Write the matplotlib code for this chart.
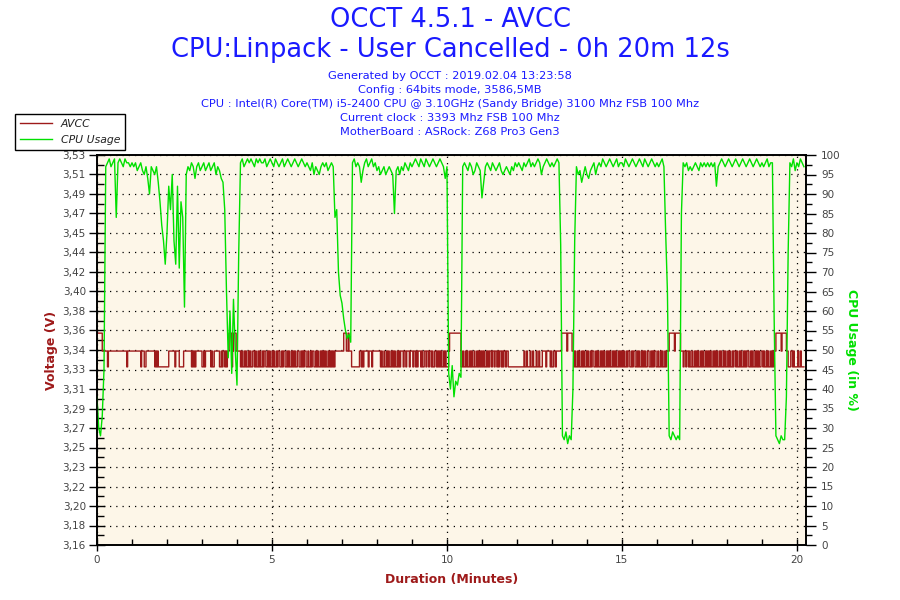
import numpy as np
import matplotlib
matplotlib.use('Agg')
import matplotlib.pyplot as plt

# CPU usage: one sample every 0.05 minute
cpu_step = 0.05
cpu_usage = [
    38, 30, 28, 33, 45, 97, 98, 99, 97, 98, 99, 84, 98, 99, 98, 97, 99, 98, 98, 97,
    98, 97, 98, 96, 97, 98, 96, 95, 97, 94, 90, 97, 96, 95, 97, 93, 88, 82, 78, 72,
    80, 92, 86, 95, 78, 72, 92, 71, 88, 84, 61, 95, 97, 96, 98, 97, 94, 97, 98, 96,
    97, 98, 96, 97, 98, 96, 97, 98, 95, 97, 96, 94, 93, 86, 65, 48, 60, 44, 63, 50,
    41, 75, 98, 99, 97, 98, 99, 98, 99, 98, 97, 99, 98, 99, 98, 98, 99, 97, 98, 99,
    98, 97, 99, 98, 97, 98, 99, 97, 98, 99, 98, 97, 98, 99, 98, 97, 98, 99, 98, 97,
    98, 97, 96, 98, 95, 97, 96, 95, 97, 98, 97, 98, 96, 97, 98, 97, 84, 86, 70, 64,
    62, 58, 55, 53, 54, 52, 98, 99, 97, 98, 97, 93, 96, 98, 99, 97, 98, 99, 97, 98,
    96, 97, 95, 96, 97, 95, 96, 97, 96, 95, 85, 96, 97, 95, 97, 96, 98, 97, 96, 98,
    97, 98, 99, 98, 97, 99, 98, 97, 99, 98, 97, 98, 99, 98, 97, 98, 99, 98, 97, 94,
    97, 44, 40, 46, 38, 42, 41, 44, 43, 97, 98, 97, 96, 98, 97, 95, 96, 98, 97, 96,
    89, 93, 97, 98, 97, 96, 98, 97, 96, 97, 98, 96, 95, 96, 97, 96, 95, 97, 96, 98,
    97, 98, 97, 96, 98, 97, 98, 99, 97, 98, 97, 98, 99, 98, 95, 97, 98, 99, 98, 97,
    98, 97, 98, 99, 98, 77, 28, 27, 29, 26, 28, 27, 40, 78, 97, 95, 96, 93, 95, 97,
    95, 94, 96, 97, 98, 95, 97, 98, 97, 99, 98, 97, 98, 99, 98, 97, 98, 99, 97, 98,
    98, 97, 99, 98, 97, 98, 99, 98, 97, 98, 99, 98, 97, 99, 98, 97, 98, 99, 98, 97,
    98, 97, 98, 99, 97, 80, 65, 28, 27, 29, 28, 27, 28, 27, 85, 98, 97, 98, 96, 97,
    96, 97, 98, 97, 96, 98, 97, 98, 97, 98, 97, 98, 97, 98, 92, 97, 98, 99, 98, 97,
    98, 99, 98, 97, 98, 99, 98, 97, 98, 99, 98, 97, 98, 99, 98, 97, 98, 99, 98, 97,
    98, 97, 98, 99, 97, 98, 98, 58, 28, 27, 26, 28, 27, 27, 38, 75, 98, 97, 99, 96,
    98, 97, 99, 98, 97,
]

# AVCC: one sample every 0.025 minute, one row per minute
# L = 3.329 V, M = 3.344 V, H = 3.361 V
avcc_step = 0.025
avcc_codes = [
    "HHHHHHMMMM MMLMMMMMMM MMMMMMMMMM MMMMLMMMMM",
    "MMMMMMMMMM LMMMLLMMMM MMMMMMLMLM LLLLLLLLLL",
    "LLMMMMMMML MMMMLLLLLM MMMMMMMMLM LMLMMMMMMM",
    "LLMLMMMMMM LMLLMMMMMM LLMLMMLMLM MHHHLMHHHM",
    "MMMMLMLLML MLLMLMLLMM LMLLMLMLLM LMMLLMLMLL",
    "MLMLLMLMML LMLMMLLMLM LLMLMLMLLM MLLMLMLMML",
    "LMLLMLMMLL MLMLLMLMLM LMLLMLMLML MLMMMMMMMM",
    "MMHHHMMHMM MLLLLLLLLL MMLMLMMMMM LMMMLMMMMM",
    "MMMMLMLLML LMLMLLMLML MLLMLMLMMM LMMLMMMLMM",
    "MLMMLMLMMM LMLLMMLMML MMLMLLMMLM LMLMLLMLML",
    "LLMHHHHHHH HHHHHHLLML LMLMLLMLML LMLLMLMLML",
    "MLMLLMLMLM MLMMLMMLML MMLMLMMLMM LLLLLLLLLL",
    "LLLLLLLLML LMLLLMLLML LLMLLMLLLM MMMLMMMMLM",
    "LLMMLMMMMM MHHHHHHMHH HHHMMLMLLM LMLLMLMLLM",
    "LMLLMLMMLL MLMLLMLMLM LLMLMLMLLM LMLMLLMLML",
    "MLMLLMLMML LMLMMLLMLM LLMLMLMLLM MLLMLMLMML",
    "LMLLMLMLLM LMMMHHHHHH MHHHHHHMMM LMMLMMLMLL",
    "MLLMLMLMLL MLMLLMLMLM LMLLMLMLML LMLMLLMLML",
    "LMLMLLMLMM LMLLMLMLLM LMLMMLLMLM LLMLMLMLLM",
    "MLMLLMLMLL MLMLMMHHHH HHMHHHHHMM LLLMMLMLLL",
    "LMLLMLLLL",
]
avcc_levels = {"L": 3.329, "M": 3.344, "H": 3.361}

volt_labels = ["3,16", "3,18", "3,20", "3,22", "3,23", "3,25", "3,27", "3,29", "3,31",
               "3,33", "3,34", "3,36", "3,38", "3,40", "3,42", "3,44", "3,45", "3,47",
               "3,49", "3,51", "3,53"]
cpu_ticks = list(range(0, 101, 5))
minute_ticks = [0, 5, 10, 15, 20]

info_lines = [
    "Generated by OCCT : 2019.02.04 13:23:58",
    "Config : 64bits mode, 3586,5MB",
    "CPU : Intel(R) Core(TM) i5-2400 CPU @ 3.10GHz (Sandy Bridge) 3100 Mhz FSB 100 Mhz",
    "Current clock : 3393 Mhz FSB 100 Mhz",
    "MotherBoard : ASRock: Z68 Pro3 Gen3",
]

red = '#9e1a1a'
green = '#00e000'
blue = '#1a1aff'

avcc = [avcc_levels[c] for c in "".join(avcc_codes).replace(" ", "")]
t_cpu = np.arange(len(cpu_usage)) * cpu_step
t_avcc = np.arange(len(avcc)) * avcc_step

fig = plt.figure(figsize=(9, 6), dpi=100)
ax = fig.add_axes([97 / 900, 55 / 600, 709 / 900, 390 / 600])
ax.set_facecolor('#fdf6e8')
ax2 = ax.twinx()

volt_line, = ax.plot(t_avcc, avcc, color=red, lw=1.0, drawstyle='steps-post')
cpu_line, = ax2.plot(t_cpu, cpu_usage, color=green, lw=1.0)

ax.set_xlim(0, 20.26)
ax.set_ylim(3.16, 3.53)
ax2.set_ylim(0, 100)

tick_pos = np.linspace(3.16, 3.53, len(volt_labels))
ax.set_yticks(tick_pos)
ax.set_yticklabels(volt_labels)
ax.set_yticks((tick_pos[:-1] + tick_pos[1:]) / 2, minor=True)
ax2.set_yticks(cpu_ticks)
ax2.set_yticks([c + 2.5 for c in cpu_ticks[:-1]], minor=True)
ax.set_xticks(minute_ticks)
ax.set_xticks([m for m in range(0, 21) if m not in minute_ticks], minor=True)

for a in (ax, ax2):
    for s in a.spines.values():
        s.set_color('black')
        s.set_linewidth(1.2)

ax.tick_params(axis='y', which='major', direction='inout', length=12, width=1,
               labelsize=7.5, labelcolor='#444444', pad=2)
ax.tick_params(axis='y', which='minor', direction='in', length=5, width=1)
ax.tick_params(axis='x', which='major', direction='inout', length=8, width=1,
               labelsize=7.5, labelcolor='#444444', pad=3)
ax.tick_params(axis='x', which='minor', direction='in', length=4, width=1)
ax2.tick_params(axis='y', which='major', direction='out', length=7, width=1,
                labelsize=7.5, labelcolor='#444444', pad=4)
ax2.tick_params(axis='y', which='minor', direction='out', length=4, width=1)

ax.grid(True, which='major', color='black', linestyle=(0, (1, 4)), linewidth=0.9)

ax.set_ylabel("Voltage (V)", color=red, fontsize=9, fontweight='bold', labelpad=3)
ax.set_xlabel("Duration (Minutes)", color=red, fontsize=9, fontweight='bold', labelpad=6)
ax2.set_ylabel("CPU Usage (in %)", color=green, fontsize=9, fontweight='bold',
               rotation=270, labelpad=12)

fig.text(0.5, 1 - 20 / 600, "OCCT 4.5.1 - AVCC", ha='center', va='center',
         color=blue, fontsize=18.5)
fig.text(0.5, 1 - 50 / 600, "CPU:Linpack - User Cancelled - 0h 20m 12s", ha='center',
         va='center', color=blue, fontsize=18.5)
for i, line in enumerate(info_lines):
    fig.text(0.5, 1 - (76 + 14 * i) / 600, line, ha='center', va='center',
             color=blue, fontsize=8.2)

leg = fig.legend([volt_line, cpu_line], ["AVCC", "CPU Usage"], loc='upper left',
                 bbox_to_anchor=(15 / 900, 1 - 114 / 600), fancybox=False,
                 framealpha=1, edgecolor='black', fontsize=7.8, handlelength=3.0,
                 borderpad=0.45, labelspacing=0.55, borderaxespad=0)
leg.get_frame().set_linewidth(1.0)
for txt in leg.get_texts():
    txt.set_fontstyle('italic')
    txt.set_color('#222222')

fig.savefig('out.png', dpi=100)
